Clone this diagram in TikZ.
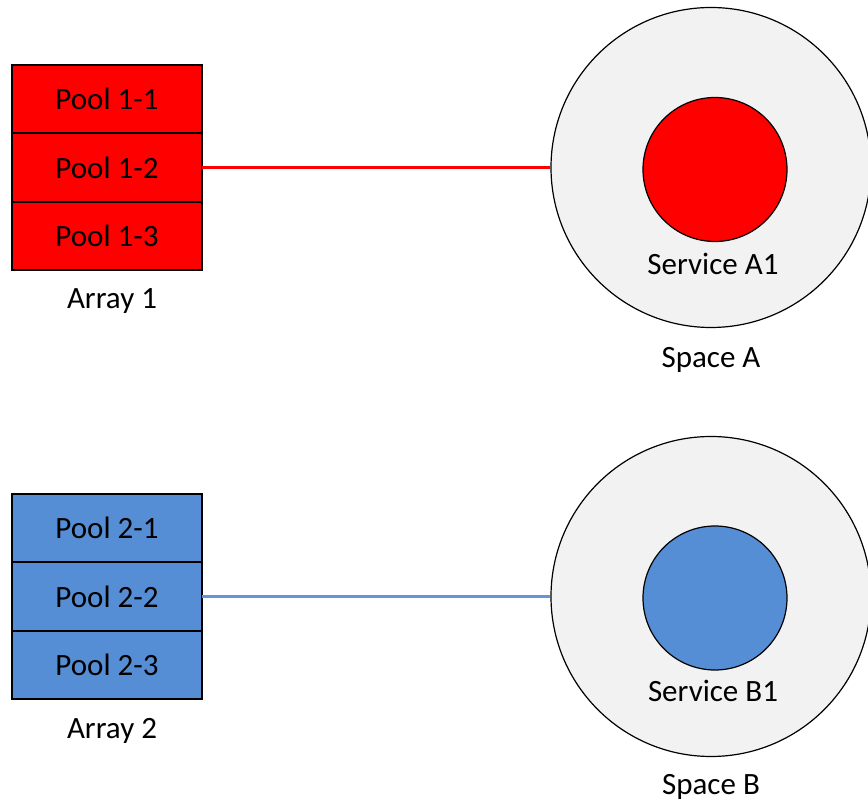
\documentclass[tikz,border=0pt]{standalone}
\usepackage{fontspec}
\setmainfont{Carlito}
\usepackage{tikz}
\usetikzlibrary{positioning}

\definecolor{poolred}{RGB}{255,0,0}
\definecolor{poolblue}{RGB}{85,142,213}
\definecolor{linkblue}{RGB}{100,150,215}
\definecolor{spacegray}{RGB}{242,242,242}

\begin{document}
\begin{tikzpicture}[x=0.5pt, y=-0.5pt,
    font=\fontsize{15.5}{18}\selectfont,
    pool/.style={draw=black, line width=0.8pt, outer sep=0pt, inner sep=0pt,
                 minimum width=95pt, minimum height=34.25pt},
    space/.style={circle, draw=black, fill=spacegray, line width=0.6pt,
                  inner sep=0pt, minimum size=160pt},
    service/.style={circle, draw=black, line width=0.6pt,
                    inner sep=0pt, minimum size=72pt},
    caption/.style={anchor=base, inner sep=0pt},
    wire/.style={line width=1.1pt}]

    \useasboundingbox (0,0) rectangle (868,801);

    % Array 1
    \node[pool, fill=poolred]                   (p11) at (107,99) {Pool 1-1};
    \node[pool, fill=poolred, below=0pt of p11] (p12) {Pool 1-2};
    \node[pool, fill=poolred, below=0pt of p12] (p13) {Pool 1-3};
    \node[caption] (array1) at (112,309) {Array 1};

    % Space A
    \node[space]   (spaceA) at (711,167.5) {};
    \node[service, fill=poolred] (svcA) at (715,169.5) {};
    \node[caption] (svcAlabel)   at (713,275) {Service A1};
    \node[caption] (spaceAlabel) at (711,368) {Space A};

    \draw[wire, poolred] (p12.east) -- (spaceA.west);

    % Array 2
    \node[pool, fill=poolblue]                   (p21) at (107,528) {Pool 2-1};
    \node[pool, fill=poolblue, below=0pt of p21] (p22) {Pool 2-2};
    \node[pool, fill=poolblue, below=0pt of p22] (p23) {Pool 2-3};
    \node[caption] (array2) at (112,739) {Array 2};

    % Space B
    \node[space]   (spaceB) at (711,596.5) {};
    \node[service, fill=poolblue] (svcB) at (715,598) {};
    \node[caption] (svcBlabel)   at (713,702) {Service B1};
    \node[caption] (spaceBlabel) at (711,795) {Space B};

    \draw[wire, linkblue] (p22.east) -- (spaceB.west);

\end{tikzpicture}
\end{document}
